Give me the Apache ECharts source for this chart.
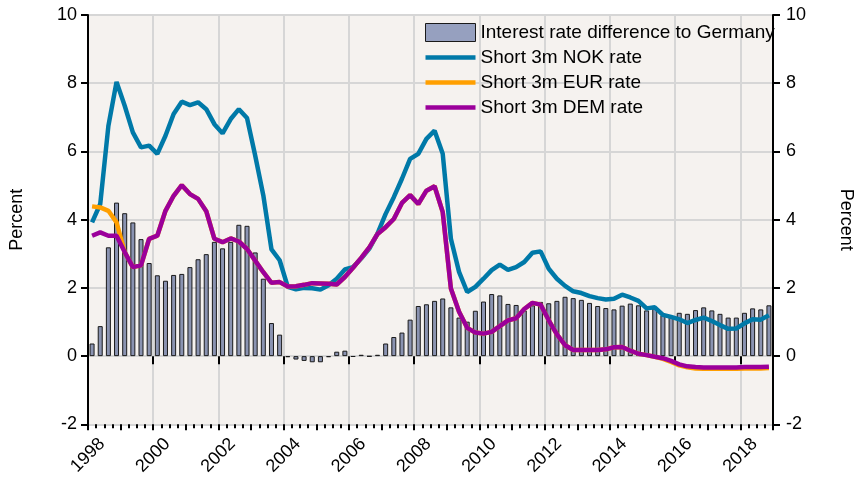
<!DOCTYPE html>
<html>
<head>
<meta charset="utf-8">
<script src="https://cdn.jsdelivr.net/npm/echarts@6/dist/echarts.min.js"></script>
<style>
html,body{margin:0;padding:0;background:#fff;}
#chart{width:863px;height:478px;}
</style>
</head>
<body>
<div id="chart"></div>
<script>
// Quarterly categories 1998Q1 .. 2018Q4
const years = [1998,1999,2000,2001,2002,2003,2004,2005,2006,2007,2008,2009,2010,2011,2012,2013,2014,2015,2016,2017,2018];
const quarters = ['Q1','Q2','Q3','Q4'];
const categories = [];
years.forEach(y => quarters.forEach(q => categories.push(y + q)));

const seriesNames = ['Interest rate difference to Germany','Short 3m NOK rate','Short 3m EUR rate','Short 3m DEM rate'];

const diffGermany = [
  0.37,0.88,3.19,4.50, 4.19,3.92,3.43,2.73, 2.37,2.21,2.38,2.41, 2.61,2.84,2.99,3.35,
  3.16,3.35,3.85,3.82, 3.04,2.27,0.97,0.63, -0.03,-0.10,-0.14,-0.18, -0.18,-0.03,0.13,0.16,
  -0.02,0.04,-0.01,0.04, 0.37,0.56,0.69,1.07, 1.47,1.52,1.62,1.69, 1.43,1.13,1.01,1.33,
  1.60,1.82,1.78,1.53, 1.50,1.34,1.49,1.59, 1.55,1.62,1.74,1.70, 1.65,1.56,1.47,1.41,
  1.37,1.48,1.54,1.49, 1.34,1.40,1.20,1.17, 1.27,1.24,1.35,1.43, 1.34,1.24,1.13,1.13,
  1.27,1.40,1.37,1.49
];
const nokRate = [
  3.92,4.46,6.75,8.04, 7.34,6.56,6.12,6.17, 5.93,6.46,7.10,7.46, 7.36,7.44,7.24,6.80,
  6.53,6.95,7.24,6.98, 5.88,4.71,3.13,2.81, 2.03,1.96,2.00,1.99, 1.95,2.08,2.27,2.54,
  2.61,2.86,3.15,3.59, 4.17,4.66,5.20,5.78, 5.93,6.37,6.61,5.93, 3.44,2.47,1.88,2.03,
  2.27,2.52,2.68,2.53, 2.61,2.76,3.03,3.07, 2.56,2.27,2.06,1.90, 1.85,1.76,1.70,1.66,
  1.68,1.80,1.72,1.62, 1.40,1.43,1.21,1.15, 1.08,0.97,1.06,1.13, 1.03,0.91,0.80,0.81,
  0.96,1.08,1.07,1.20
];
const eurRate = [
  4.39,4.36,4.26,3.92, 3.05,2.61,2.66,3.44, 3.53,4.26,4.70,5.01, 4.75,4.61,4.25,3.44,
  3.34,3.45,3.36,3.14, 2.80,2.46,2.15,2.17, 2.04,2.05,2.09,2.14, 2.13,2.12,2.10,2.32,
  2.59,2.88,3.19,3.58, 3.78,4.02,4.49,4.72, 4.46,4.85,4.98,4.22, 1.98,1.30,0.83,0.69,
  0.66,0.71,0.88,1.05, 1.11,1.38,1.56,1.51, 1.05,0.64,0.32,0.18, 0.18,0.18,0.18,0.20,
  0.26,0.27,0.16,0.07, 0.03,-0.02,-0.08,-0.17, -0.27,-0.33,-0.36,-0.37, -0.37,-0.37,-0.37,-0.37,
  -0.36,-0.36,-0.36,-0.35
];
const demRate = [
  3.53,3.63,3.53,3.53, 3.05,2.61,2.66,3.44, 3.53,4.26,4.70,5.01, 4.75,4.61,4.25,3.44,
  3.34,3.45,3.36,3.14, 2.80,2.46,2.15,2.17, 2.04,2.05,2.09,2.14, 2.13,2.12,2.10,2.32,
  2.59,2.88,3.19,3.58, 3.78,4.02,4.49,4.72, 4.46,4.85,4.98,4.22, 1.98,1.30,0.83,0.69,
  0.66,0.71,0.88,1.05, 1.11,1.38,1.56,1.51, 1.05,0.64,0.32,0.18, 0.18,0.18,0.18,0.20,
  0.26,0.27,0.16,0.07, 0.03,-0.02,-0.06,-0.14, -0.24,-0.30,-0.32,-0.33, -0.33,-0.33,-0.33,-0.33,
  -0.32,-0.32,-0.32,-0.31
];

const FONT = '"Liberation Sans", Arial, sans-serif';
const COLORS = {bar:'#8a93b1', nok:'#0079a8', eur:'#ff9f00', dem:'#9b009b'};
const LINE_ICON = 'path://M0,0L50,0L50,4.5L0,4.5Z';

const chart = echarts.init(document.getElementById('chart'), null, {renderer:'canvas'});

const option = {
  animation:false,
  textStyle:{fontFamily:FONT},
  grid:{left:88, right:87, top:15, bottom:53, show:true, backgroundColor:'#f5f2ef', borderWidth:0},
  legend:{
    orient:'vertical', left:420, top:18, padding:5,
    itemWidth:50, itemHeight:18, itemGap:6,
    textStyle:{fontSize:19, color:'#000', fontFamily:FONT},
    data:[
      {name:seriesNames[0], icon:'rect', itemStyle:{color:'#96a0bf', borderColor:'#1a1a1a', borderWidth:1}},
      {name:seriesNames[1], icon:LINE_ICON, itemStyle:{color:COLORS.nok, borderWidth:0}},
      {name:seriesNames[2], icon:LINE_ICON, itemStyle:{color:COLORS.eur, borderWidth:0}},
      {name:seriesNames[3], icon:LINE_ICON, itemStyle:{color:COLORS.dem, borderWidth:0}}
    ]
  },
  xAxis:[
    {type:'category', data:categories, boundaryGap:true, show:false},
    {type:'value', min:1998, max:2019, interval:2, position:'bottom',
     axisLine:{show:false},
     axisTick:{show:true, length:8, lineStyle:{color:'#000', width:2}},
     axisLabel:{color:'#000', fontSize:18, fontFamily:FONT, rotate:45, align:'center', verticalAlign:'middle', margin:31, showMaxLabel:false, formatter:v=>String(v)},
     splitLine:{show:true, lineStyle:{color:'#d6d6d6', width:2}}},
    {type:'value', min:1998, max:2019, interval:1, position:'bottom',
     axisLine:{show:false}, axisLabel:{show:false}, splitLine:{show:false},
     axisTick:{show:true, length:6, lineStyle:{color:'#000', width:2}}},
    {type:'value', min:1998, max:2019, interval:0.25, position:'bottom',
     axisLine:{show:false}, axisLabel:{show:false}, splitLine:{show:false},
     axisTick:{show:true, length:4, lineStyle:{color:'#000', width:2}}}
  ],
  yAxis:[
    {type:'value', min:-2, max:10, interval:2, position:'left',
     name:'Percent', nameLocation:'middle', nameGap:62, nameRotate:90,
     nameTextStyle:{fontSize:18, color:'#000', fontFamily:FONT},
     axisLine:{show:true, lineStyle:{color:'#000', width:2}},
     axisTick:{show:true, length:7, lineStyle:{color:'#000', width:2}},
     axisLabel:{color:'#000', fontSize:18, fontFamily:FONT, margin:11},
     splitLine:{show:true, lineStyle:{color:'#d6d6d6', width:2}}},
    {type:'value', min:-2, max:10, interval:2, position:'right',
     name:'Percent', nameLocation:'middle', nameGap:64, nameRotate:-90,
     nameTextStyle:{fontSize:18, color:'#000', fontFamily:FONT},
     axisLine:{show:true, lineStyle:{color:'#000', width:2}},
     axisTick:{show:true, length:7, lineStyle:{color:'#000', width:2}},
     axisLabel:{color:'#000', fontSize:18, fontFamily:FONT, margin:13},
     splitLine:{show:false}}
  ],
  series:[
    {name:seriesNames[0], type:'bar', xAxisIndex:0, yAxisIndex:0, data:diffGermany, barWidth:5,
     itemStyle:{color:COLORS.bar, borderColor:'#1a1a1a', borderWidth:1}},
    {name:seriesNames[1], type:'line', xAxisIndex:0, yAxisIndex:0, data:nokRate, symbol:'none',
     lineStyle:{color:COLORS.nok, width:4.5}, itemStyle:{color:COLORS.nok}},
    {name:seriesNames[2], type:'line', xAxisIndex:0, yAxisIndex:0, data:eurRate, symbol:'none',
     lineStyle:{color:COLORS.eur, width:4.5}, itemStyle:{color:COLORS.eur}},
    {name:seriesNames[3], type:'line', xAxisIndex:0, yAxisIndex:0, data:demRate, symbol:'none',
     lineStyle:{color:COLORS.dem, width:4.5}, itemStyle:{color:COLORS.dem}}
  ]
};
chart.setOption(option);
</script>
</body>
</html>
